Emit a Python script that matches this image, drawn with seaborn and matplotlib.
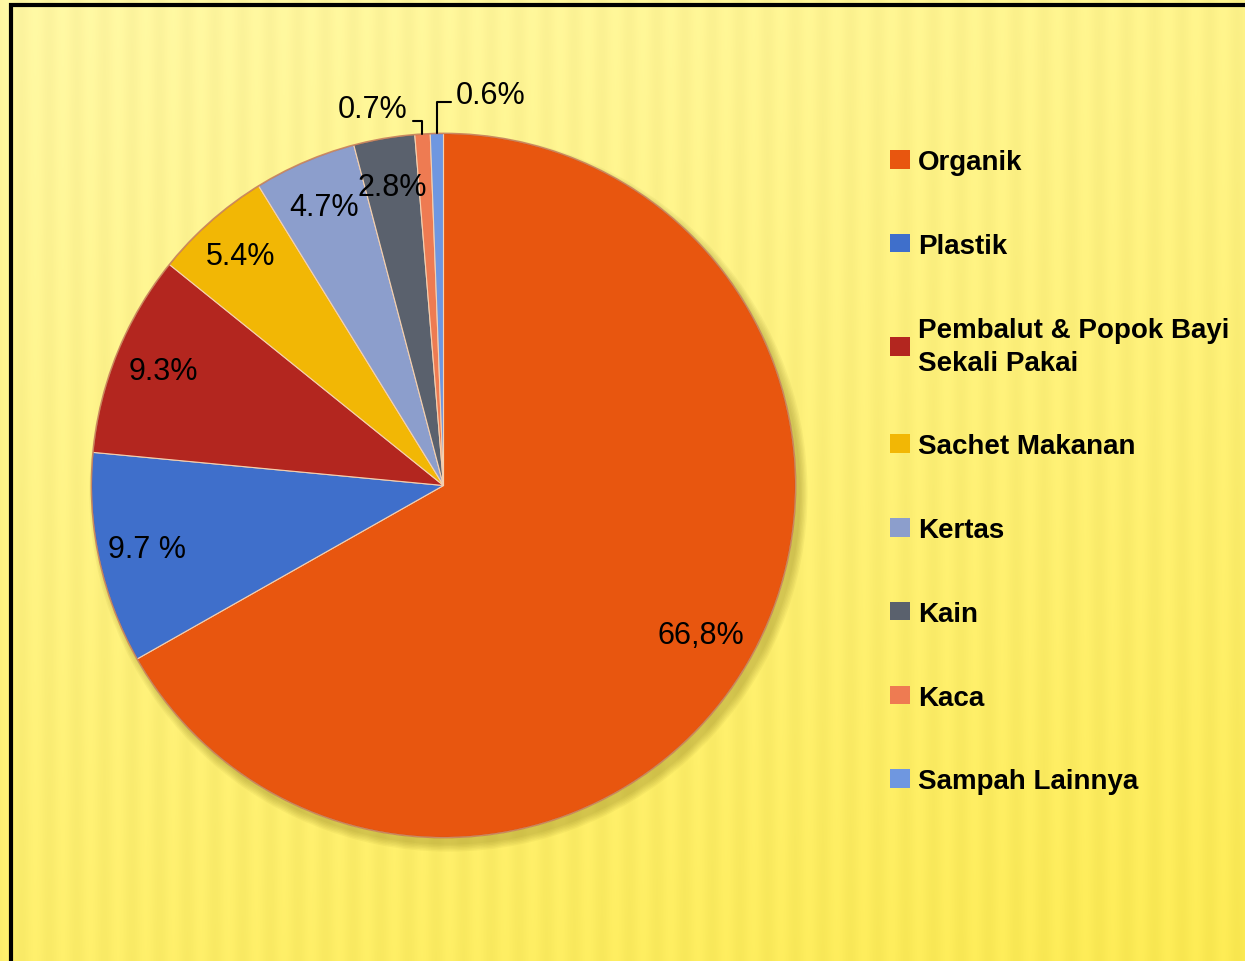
import numpy as np
import matplotlib.pyplot as plt
import seaborn as sns
from matplotlib.patches import Patch, Rectangle, Circle

# data
kategori = ['Organik', 'Plastik', 'Pembalut & Popok Bayi\nSekali Pakai', 'Sachet Makanan',
            'Kertas', 'Kain', 'Kaca', 'Sampah Lainnya']
persen = [66.8, 9.7, 9.3, 5.4, 4.7, 2.8, 0.7, 0.6]
label_persen = ['66,8%', '9.7 %', '9.3%', '5.4%', '4.7%', '2.8%', '0.7%', '0.6%']
warna = sns.color_palette(['#E8560F', '#3F6FCB', '#B3261F', '#F2B705',
                           '#8C9ECC', '#5A616D', '#EE7B52', '#6F97E0'])

sns.set_style('white')
plt.rcParams['font.family'] = ['Liberation Sans', 'DejaVu Sans']

fig = plt.figure(figsize=(12.45, 9.62), dpi=100)

# latar belakang kuning bergradasi
bg = fig.add_axes([0, 0, 1, 1], zorder=-10)
gx, gy = np.meshgrid(np.linspace(0, 1, 800), np.linspace(0, 1, 600))
t = np.clip(0.3 * gx + 0.7 * gy, 0, 1)
stripe = 0.012 * np.sin(gx * 2 * np.pi * 45)
c0 = np.array([1.0, 0.968, 0.64])
c1 = np.array([0.985, 0.915, 0.32])
img = c0[None, None, :] * (1 - t[..., None]) + c1[None, None, :] * t[..., None]
img = np.clip(img + stripe[..., None], 0, 1)
bg.imshow(img, aspect='auto', extent=[0, 1, 0, 1], origin='upper')
bg.set_axis_off()
bg.add_patch(Rectangle((11 / 1245, -0.05), 1.1, 1 - 6 / 962 + 0.05, transform=bg.transAxes,
                       fill=False, edgecolor='black', linewidth=3, clip_on=False))

ax = fig.add_axes([21 / 1245, 53 / 962, 845 / 1245, 845 / 962])

# bayangan lembut
for i in range(6):
    ax.add_patch(Circle((0.014, -0.02), 1.0 + 0.004 * i, color='#7a6a10',
                        alpha=0.06, linewidth=0, zorder=0))

wedges, _ = ax.pie(persen, colors=warna, startangle=90, counterclock=False, radius=1,
                   wedgeprops=dict(edgecolor='#f4d0b0', linewidth=0.8))
ax.add_patch(Circle((0, 0), 1.0, fill=False, edgecolor='#b05a30', linewidth=1.2, alpha=0.6))

ax.set_xlim(-1.2, 1.2)
ax.set_ylim(-1.2, 1.2)
ax.set_aspect('equal')
ax.set_axis_off()

jarak = [0.845, 0.86, 0.86, 0.87, 0.86, 0.86]
for w, lab, r in zip(wedges[:6], label_persen[:6], jarak):
    ang = np.deg2rad((w.theta1 + w.theta2) / 2)
    ax.text(r * np.cos(ang), r * np.sin(ang), lab, ha='center', va='center',
            fontsize=22, color='black')

# label kecil dengan garis penunjuk
posisi_kecil = [(-0.20, 1.07, (1, 0.1)), (0.134, 1.11, (0, 0.25))]
for w, lab, (tx, ty, rp) in zip(wedges[6:], label_persen[6:], posisi_kecil):
    ang = np.deg2rad((w.theta1 + w.theta2) / 2)
    ax.annotate(lab, xy=(np.cos(ang), np.sin(ang)), xytext=(tx, ty),
                ha='center', va='center', fontsize=22, color='black',
                arrowprops=dict(arrowstyle='-', color='black', linewidth=1.5,
                                connectionstyle='angle,angleA=0,angleB=90,rad=0',
                                relpos=rp, shrinkA=1, shrinkB=0))

handles = [Patch(facecolor=c, edgecolor='none') for c in warna]
leg = fig.legend(handles, kategori, loc='upper left', bbox_to_anchor=(890 / 1245, 1 - 150 / 962),
                 frameon=False, handlelength=0.72, handleheight=0.65,
                 handletextpad=0.29, labelspacing=2.08, borderpad=0, borderaxespad=0,
                 labelcolor='black', prop=dict(weight='bold', size=20))
for txt in leg.get_texts():
    txt.set_linespacing(1.35)

fig.savefig('out.png', dpi=100)
